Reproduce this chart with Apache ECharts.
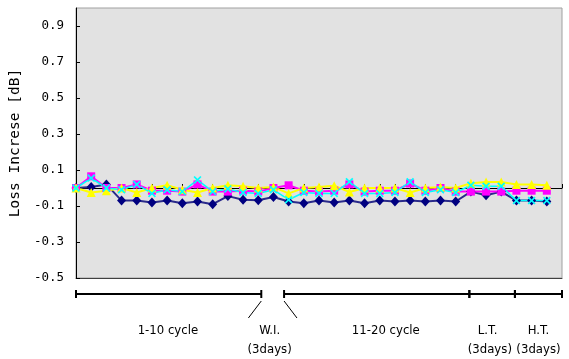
<!DOCTYPE html>
<html><head><meta charset="utf-8">
<script src="https://cdn.jsdelivr.net/npm/echarts@6/dist/echarts.min.js"></script>
<style>html,body{margin:0;padding:0;background:#fff}#c{width:569px;height:359px}</style>
</head><body><div id="c"></div>
<script>
// measurement steps (x positions, category index)
const steps = [0,1,2,3,4,5,6,7,8,9,10,11,12,13,14,15,16,17,18,19,20,21,22,23,24,25,26,27,28,29,30,31];
// series values [dB]
const navy    = [0, 0.005, 0.02, -0.07, -0.07, -0.08, -0.07, -0.085, -0.075, -0.09, -0.045, -0.065, -0.068, -0.05, -0.075, -0.085, -0.07, -0.08, -0.07, -0.085, -0.07, -0.075, -0.07, -0.075, -0.07, -0.075, -0.02, -0.04, -0.02, -0.07, -0.07, -0.075];
const magenta = [0, 0.065, 0, 0, 0.02, -0.015, -0.015, -0.02, 0.02, -0.02, -0.02, -0.015, -0.02, 0, 0.015, -0.015, -0.02, -0.015, 0.02, -0.02, -0.015, -0.015, 0.025, -0.015, 0, -0.02, -0.02, -0.02, -0.02, -0.015, -0.015, -0.015];
const yellow  = [0, -0.025, -0.015, 0, -0.025, 0, 0.015, -0.01, -0.025, 0, 0.015, 0.01, 0, 0.005, -0.03, 0, 0.005, 0.013, -0.022, 0, 0, 0, -0.025, 0, 0.005, 0, 0.027, 0.033, 0.033, 0.02, 0.02, 0.015];
const cyan    = [0, 0.055, 0, -0.01, 0.02, -0.03, -0.01, -0.02, 0.045, -0.02, -0.005, -0.025, -0.03, -0.01, -0.065, -0.025, -0.03, -0.03, 0.035, -0.03, -0.03, -0.025, 0.035, -0.025, -0.01, -0.025, 0.015, 0.01, 0.01, -0.07, -0.07, -0.07];
// y tick labels
const yTicks = [-0.5, -0.3, -0.1, 0.1, 0.3, 0.5, 0.7, 0.9];
// test-phase brackets below the plot (in step units)
const phaseSpans = [[0, 12.2], [13.7, 25.9], [25.9, 28.9], [28.9, 32]];
const phaseLabels = [
  {text: '1-10 cycle', at: 6.05, row: 0},
  {text: 'W.I.', at: 12.75, row: 0},
  {text: '(3days)', at: 12.75, row: 1},
  {text: '11-20 cycle', at: 20.4, row: 0},
  {text: 'L.T.', at: 27.1, row: 0},
  {text: '(3days)', at: 27.25, row: 1},
  {text: 'H.T.', at: 30.45, row: 0},
  {text: '(3days)', at: 30.45, row: 1}
];

const chart = echarts.init(document.getElementById('c'), null, {renderer: 'canvas'});
const pair = arr => steps.map((s, i) => [s, arr[i]]);
const xShape = 'path://M0,1.5L1.5,0L5,3.5L8.5,0L10,1.5L6.5,5L10,8.5L8.5,10L5,6.5L1.5,10L0,8.5L3.5,5Z';

chart.setOption({
  animation: false,
  grid: {left: 76, right: 7, top: 8, bottom: 81, show: true, backgroundColor: '#e2e2e2', borderColor: '#a0a0a0', borderWidth: 1},
  xAxis: [{
    type: 'value', min: 0, max: 32, interval: 1,
    axisLine: {show: true, onZero: true, lineStyle: {color: '#000', width: 1}},
    axisTick: {show: true, inside: true, length: 4, lineStyle: {color: '#000'}},
    axisLabel: {show: false}, splitLine: {show: false}
  }, {
    type: 'value', min: 0, max: 32, position: 'bottom',
    axisLine: {show: true, onZero: false, lineStyle: {color: '#404040', width: 1}},
    axisTick: {show: false}, axisLabel: {show: false}, splitLine: {show: false}
  }],
  yAxis: {
    type: 'value', min: -0.5, max: 1.0,
    axisLine: {show: true, lineStyle: {color: '#000', width: 1}},
    axisTick: {show: true, inside: true, length: 4, customValues: yTicks, lineStyle: {color: '#000'}},
    axisLabel: {customValues: yTicks, formatter: v => v.toFixed(1), fontFamily: 'DejaVu Sans Mono', fontSize: 12.5, color: '#000', margin: 12},
    splitLine: {show: false},
    name: 'Loss Increse [dB]', nameLocation: 'middle', nameGap: 48, nameRotate: 90,
    nameTextStyle: {fontFamily: 'DejaVu Sans Mono', fontSize: 14.5, color: '#000'}
  },
  series: [
    {type: 'line', data: pair(navy), symbol: 'diamond', symbolSize: [9, 10], itemStyle: {color: '#000080'}, lineStyle: {color: '#2a2a8a', width: 2}},
    {type: 'line', data: pair(magenta), symbol: 'rect', symbolSize: 8, itemStyle: {color: '#ff00ff'}, lineStyle: {color: '#ff00ff', width: 2}},
    {type: 'line', data: pair(yellow), symbol: 'triangle', symbolSize: 9, itemStyle: {color: '#ffff00'}, lineStyle: {color: '#ffff00', width: 2}},
    {type: 'line', data: pair(cyan), symbol: xShape, symbolSize: 8, itemStyle: {color: '#00ffff'}, lineStyle: {color: '#00ffff', width: 1.5}}
  ]
});

// annotation brackets positioned through the chart's own x scale
const px = v => chart.convertToPixel({xAxisIndex: 0}, v);
const baseY = chart.convertToPixel({yAxisIndex: 0}, -0.5);
const lineY = baseY + 16;
const rowY = [baseY + 53, baseY + 72];
const els = [];
const ls = {stroke: '#000', lineWidth: 2};
phaseSpans.forEach(([a, b]) => {
  const x1 = px(a), x2 = px(b);
  els.push({type: 'line', shape: {x1: x1, y1: lineY, x2: x2, y2: lineY}, style: ls});
  els.push({type: 'line', shape: {x1: x1, y1: lineY - 4, x2: x1, y2: lineY + 4}, style: ls});
  els.push({type: 'line', shape: {x1: x2, y1: lineY - 4, x2: x2, y2: lineY + 4}, style: ls});
});
// leader strokes to W.I.
els.push({type: 'line', shape: {x1: px(12.2), y1: lineY + 7, x2: px(11.35), y2: lineY + 24}, style: {stroke: '#000', lineWidth: 1}});
els.push({type: 'line', shape: {x1: px(13.7), y1: lineY + 7, x2: px(14.55), y2: lineY + 24}, style: {stroke: '#000', lineWidth: 1}});
phaseLabels.forEach(l => {
  els.push({type: 'text', x: px(l.at), y: rowY[l.row], style: {text: l.text, fill: '#000', font: '13px "Liberation Sans Narrow", "DejaVu Sans Condensed", sans-serif', textAlign: 'center', textVerticalAlign: 'middle'}});
});
chart.setOption({graphic: {elements: els}});
</script>
</body></html>
